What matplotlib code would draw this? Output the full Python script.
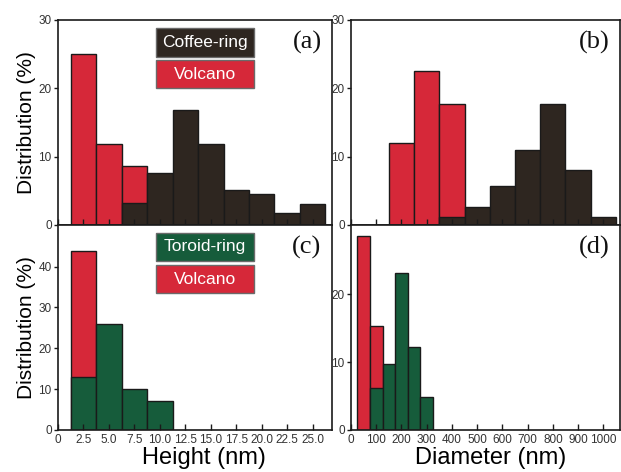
import matplotlib
matplotlib.use("Agg")
import matplotlib.pyplot as plt
from matplotlib.patches import Rectangle

# ---- data ----
# (a) height distribution: volcano vs coffee-ring
a_volcano_x = [2.5, 5.0, 7.5]
a_volcano_y = [25.0, 11.9, 8.7]
a_coffee_x = [7.5, 10.0, 12.5, 15.0, 17.5, 20.0, 22.5, 25.0]
a_coffee_y = [3.2, 7.6, 16.9, 11.8, 5.1, 4.6, 1.8, 3.1]

# (b) diameter distribution: volcano vs coffee-ring
b_volcano_x = [200, 300, 400]
b_volcano_y = [12.0, 22.5, 17.7]
b_coffee_x = [400, 500, 600, 700, 800, 900, 1000]
b_coffee_y = [1.1, 2.6, 5.7, 11.0, 17.7, 8.1, 1.1]

# (c) height distribution: volcano vs toroid-ring
c_volcano_x = [2.5]
c_volcano_y = [43.9]
c_toroid_x = [2.5, 5.0, 7.5, 10.0]
c_toroid_y = [13.1, 26.0, 10.0, 7.2]

# (d) diameter distribution: volcano vs toroid-ring
d_volcano_x = [50, 100]
d_volcano_y = [28.6, 15.3]
d_toroid_x = [100, 150, 200, 250, 300]
d_toroid_y = [6.2, 9.75, 23.2, 12.25, 4.9]

height_ticks = [0, 2.5, 5.0, 7.5, 10.0, 12.5, 15.0, 17.5, 20.0, 22.5, 25.0]
height_labels = ["0", "2.5", "5.0", "7.5", "10.0", "12.5", "15.0", "17.5", "20.0", "22.5", "25.0"]
diam_ticks = [0, 100, 200, 300, 400, 500, 600, 700, 800, 900, 1000]
diam_labels = ["0", "100", "200", "300", "400", "500", "600", "700", "800", "900", "1000"]

RED = "#d62839"
DARK = "#2e2620"
GREEN = "#165c3b"
EDGE = "#1a1a1a"
TICKC = "#333333"

plt.rcParams["font.family"] = ["Liberation Sans", "DejaVu Sans"]

fig = plt.figure(figsize=(6.21, 4.72), dpi=100)
W, H = 621.0, 472.0

def axes_px(l, t, r, b):
    return fig.add_axes([l / W, 1 - b / H, (r - l) / W, (b - t) / H])

ax_a = axes_px(58, 20, 332, 225)
ax_b = axes_px(351, 20, 620, 225)
ax_c = axes_px(58, 225, 332, 430)
ax_d = axes_px(351, 225, 620, 430)

def style(ax, xlim, ylim, xticks, xlabels, yticks, show_xlabels):
    ax.set_xlim(*xlim)
    ax.set_ylim(*ylim)
    ax.set_xticks(xticks)
    if show_xlabels:
        ax.set_xticklabels(xlabels)
    else:
        ax.set_xticklabels([])
    ax.set_yticks(yticks)
    ax.tick_params(axis="x", direction="in", length=4, width=1, pad=3,
                   labelsize=8.5, labelcolor=TICKC, colors=EDGE)
    ax.tick_params(axis="y", direction="out", length=3, width=1, pad=1.5,
                   labelsize=8.5, labelcolor=TICKC, colors=EDGE)
    for s in ax.spines.values():
        s.set_linewidth(1.2)
        s.set_color(EDGE)

def bars(ax, x, y, w, color):
    ax.bar(x, y, width=w, color=color, edgecolor=EDGE, linewidth=1.0, align="center")

# (a)
bars(ax_a, a_volcano_x, a_volcano_y, 2.5, RED)
bars(ax_a, a_coffee_x, a_coffee_y, 2.5, DARK)
style(ax_a, (0, 26.9), (0, 30), height_ticks, height_labels, [0, 10, 20, 30], False)

# (b)
bars(ax_b, b_volcano_x, b_volcano_y, 100, RED)
bars(ax_b, b_coffee_x, b_coffee_y, 100, DARK)
style(ax_b, (0, 1066), (0, 30), diam_ticks, diam_labels, [0, 10, 20, 30], False)

# (c)
bars(ax_c, c_volcano_x, c_volcano_y, 2.5, RED)
bars(ax_c, c_toroid_x, c_toroid_y, 2.5, GREEN)
style(ax_c, (0, 26.9), (0, 50.2), height_ticks, height_labels, [0, 10, 20, 30, 40], True)

# (d)
bars(ax_d, d_volcano_x, d_volcano_y, 50, RED)
bars(ax_d, d_toroid_x, d_toroid_y, 50, GREEN)
style(ax_d, (0, 1066), (0, 30.2), diam_ticks, diam_labels, [0, 10, 20], True)

# panel letters
for ax, lab in [(ax_a, "(a)"), (ax_b, "(b)"), (ax_c, "(c)"), (ax_d, "(d)")]:
    ax.text(0.962, 0.945, lab, transform=ax.transAxes, ha="right", va="top",
            fontsize=19, family=["Liberation Serif", "DejaVu Serif"], color="#111111")

# legend-like boxes
def label_box(ax, y0, y1, text, color):
    ax.add_patch(Rectangle((0.357, y0), 0.359, y1 - y0, transform=ax.transAxes,
                           facecolor=color, edgecolor="#6a6a6a", linewidth=1.0,
                           zorder=5, clip_on=False))
    ax.text(0.5365, (y0 + y1) / 2, text, transform=ax.transAxes, ha="center",
            va="center", color="white", fontsize=12.5, zorder=6)

label_box(ax_a, 0.821, 0.9595, "Coffee-ring", DARK)
label_box(ax_a, 0.667, 0.805, "Volcano", RED)
label_box(ax_c, 0.826, 0.962, "Toroid-ring", GREEN)
label_box(ax_c, 0.668, 0.805, "Volcano", RED)

# axis labels
for ax in (ax_a, ax_c):
    ax.set_ylabel("Distribution (%)", fontsize=15)
    ax.yaxis.set_label_coords(-0.080, 0.5)
ax_c.set_xlabel("Height (nm)", fontsize=17)
ax_d.set_xlabel("Diameter (nm)", fontsize=17)
ax_c.xaxis.set_label_coords(0.533, -0.085)
ax_d.xaxis.set_label_coords(0.52, -0.085)

fig.savefig("out.png", dpi=100)
